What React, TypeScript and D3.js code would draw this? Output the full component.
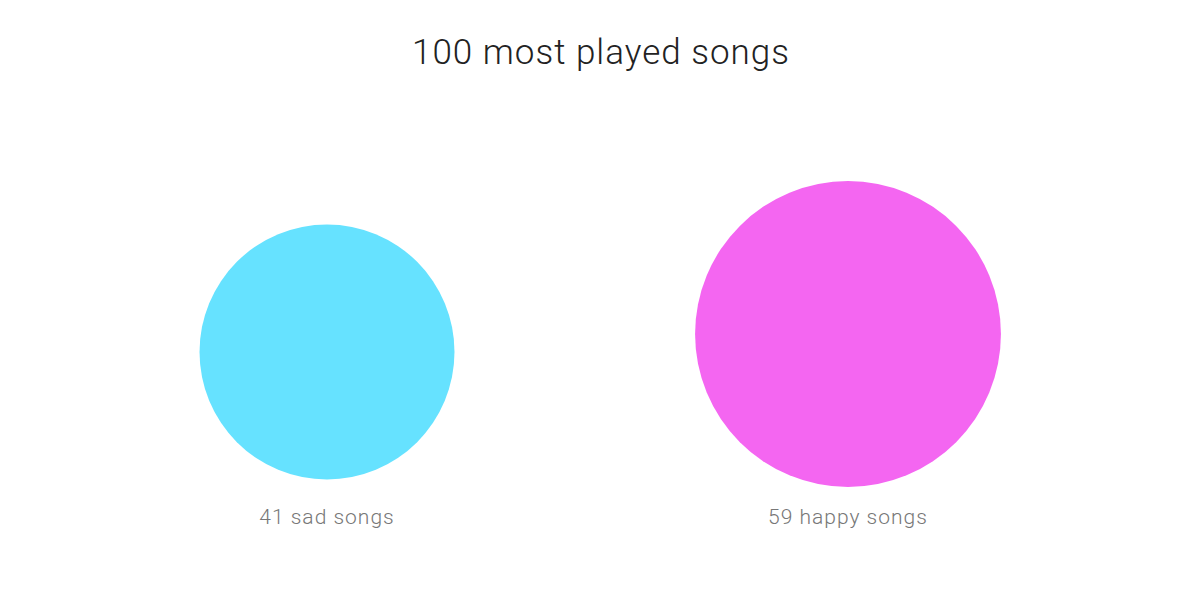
import React, { useRef, useEffect } from "react";
import * as d3 from "d3";

const categories = ["sad", "happy"];
const counts = [41, 59];
const colors = ["#66e2ff", "#f466f1"];
const title = "100 most played songs";

const width = 1200;
const height = 613;

const App = () => {
  const node: any = useRef();

  useEffect(() => {
    const svg = d3.select(node.current);
    svg.selectAll("*").remove();

    // x position of each category
    const x = d3.scalePoint<string>().domain(categories).range([327, 848]);

    // circle area proportional to count
    const r = d3.scaleSqrt().domain([0, 100]).range([0, 199.1]);

    // circles sit a bit higher as they grow
    const cy = (v: number) => 442 - 0.706 * r(v);

    svg
      .append("text")
      .attr("x", 601)
      .attr("y", 64)
      .attr("text-anchor", "middle")
      .style("font-family", "'Helvetica Neue', Roboto, 'Liberation Sans', sans-serif")
      .style("font-weight", 300)
      .style("font-size", "35px")
      .style("letter-spacing", "1px")
      .style("fill", "#222")
      .text(title);

    const g = svg
      .selectAll("g.bubble")
      .data(categories)
      .enter()
      .append("g")
      .attr("class", "bubble");

    g.append("circle")
      .attr("cx", (d) => x(d) as number)
      .attr("cy", (d, i) => cy(counts[i]))
      .attr("r", (d, i) => r(counts[i]))
      .attr("fill", (d, i) => colors[i]);

    g.append("text")
      .attr("x", (d) => x(d) as number)
      .attr("y", 524)
      .attr("text-anchor", "middle")
      .style("font-family", "'Helvetica Neue', Roboto, 'Liberation Sans', sans-serif")
      .style("font-weight", 300)
      .style("font-size", "21px")
      .style("letter-spacing", "1px")
      .style("fill", "#777")
      .text((d, i) => `${counts[i]} ${d} songs`);
  }, []);

  return (
    <svg
      ref={node}
      width={width}
      height={height}
      style={{ position: "absolute", left: 0, top: 0, background: "#fff" }}
    ></svg>
  );
};

export default App;
